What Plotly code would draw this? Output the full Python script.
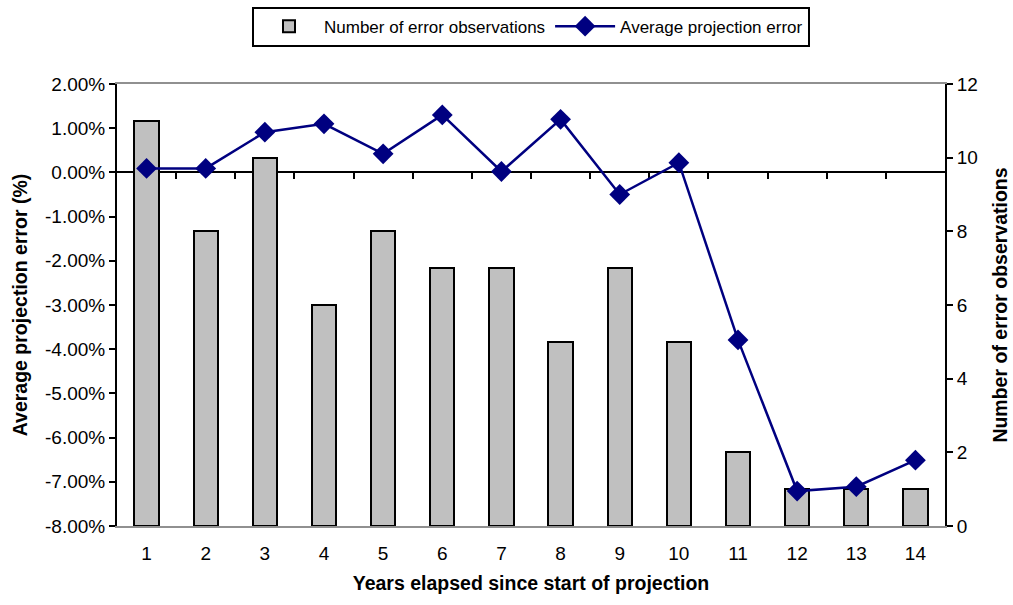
import plotly.graph_objects as go

years = list(range(1, 15))
year_labels = [str(y) for y in years]
observations = [11, 8, 10, 6, 8, 7, 7, 5, 7, 5, 2, 1, 1, 1]
avg_error_pct = [0.09, 0.09, 0.91, 1.10, 0.42, 1.30, 0.02, 1.20, -0.50, 0.22, -3.79, -7.21, -7.11, -6.51]

pct_tick_vals = [-8, -7, -6, -5, -4, -3, -2, -1, 0, 1, 2]
pct_tick_labels = ["-8.00%", "-7.00%", "-6.00%", "-5.00%", "-4.00%", "-3.00%",
                   "-2.00%", "-1.00%", "0.00%", "1.00%", "2.00%"]
count_tick_vals = [0, 2, 4, 6, 8, 10, 12]
boundaries = [y + 0.5 for y in years[:-1]]

FONT = "Liberation Sans, Arial, sans-serif"

fig = go.Figure()
fig.add_trace(go.Bar(
    x=years, y=observations, name="Number of error observations",
    marker=dict(color="#C0C0C0", line=dict(color="black", width=2)),
    width=0.41, xaxis="x", yaxis="y",
))
fig.add_trace(go.Scatter(
    x=years, y=avg_error_pct, name="Average projection error",
    mode="lines+markers",
    line=dict(color="#000080", width=2.5),
    marker=dict(symbol="diamond", size=16, color="#000080"),
    xaxis="x2", yaxis="y2",
))

fig.update_layout(
    width=1013, height=605,
    margin=dict(l=117, r=68, t=84, b=79, autoexpand=False),
    plot_bgcolor="white", paper_bgcolor="white",
    font=dict(family=FONT, size=19, color="black"),
    bargap=0,
    showlegend=True,
    legend=dict(
        orientation="h", x=0.5, xanchor="center", y=1.175, yanchor="top",
        bordercolor="black", borderwidth=2, bgcolor="white",
        font=dict(size=17), itemwidth=60,
        traceorder="normal",
    ),
    xaxis=dict(
        range=[0.5, 14.5], tickvals=years, ticktext=year_labels,
        showline=True, linecolor="#909090", linewidth=2, mirror=True,
        ticks="outside", ticklen=9, tickcolor="rgba(0,0,0,0)",
        showgrid=False, zeroline=False, automargin=False,
        title=dict(text="<b>Years elapsed since start of projection</b>", standoff=14,
                   font=dict(size=19.5)),
    ),
    xaxis2=dict(
        range=[0.5, 14.5], overlaying="x", anchor="free", position=0.8,
        showline=True, linecolor="black", linewidth=2,
        tickvals=boundaries, ticks="outside", ticklen=6, tickwidth=2, tickcolor="black",
        showticklabels=False, showgrid=False, zeroline=False, layer="below traces",
        automargin=False,
    ),
    yaxis=dict(
        range=[0, 12], tickvals=count_tick_vals, side="right",
        showline=True, linecolor="black", linewidth=2,
        ticks="outside", ticklen=6, tickwidth=2, tickcolor="black",
        showgrid=False, zeroline=False, automargin=False,
        title=dict(text="<b>Number of error observations</b>", standoff=16,
                   font=dict(size=19.5)),
    ),
    yaxis2=dict(
        range=[-8, 2], tickvals=pct_tick_vals, ticktext=pct_tick_labels,
        overlaying="y", side="left", anchor="x",
        showline=True, linecolor="black", linewidth=2,
        ticks="outside", ticklen=6, tickwidth=2, tickcolor="black",
        showgrid=False, zeroline=False, automargin=False,
        title=dict(text="<b>Average projection error (%)</b>", standoff=12,
                   font=dict(size=19.5)),
    ),
)

fig.write_html("out.html")
